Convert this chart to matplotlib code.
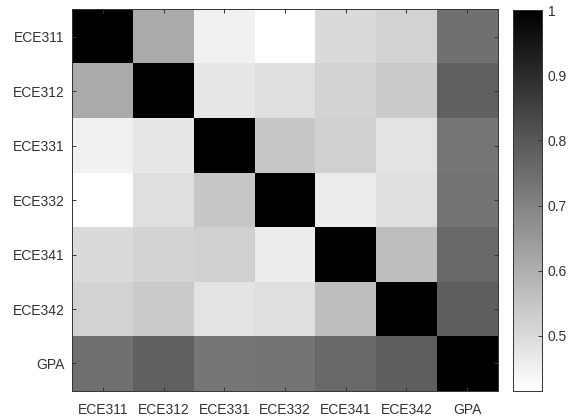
import matplotlib
matplotlib.use("Agg")
import matplotlib.pyplot as plt
import numpy as np

labels = ["ECE311", "ECE312", "ECE331", "ECE332", "ECE341", "ECE342", "GPA"]

row_ece311 = [1.000, 0.611, 0.450, 0.416, 0.501, 0.519, 0.743]
row_ece312 = [0.611, 1.000, 0.473, 0.491, 0.515, 0.537, 0.780]
row_ece331 = [0.450, 0.473, 1.000, 0.547, 0.524, 0.482, 0.730]
row_ece332 = [0.416, 0.491, 0.547, 1.000, 0.460, 0.491, 0.734]
row_ece341 = [0.501, 0.515, 0.524, 0.460, 1.000, 0.565, 0.762]
row_ece342 = [0.519, 0.537, 0.482, 0.491, 0.565, 1.000, 0.785]
row_gpa    = [0.743, 0.780, 0.730, 0.734, 0.762, 0.785, 1.000]

corr = np.array([row_ece311, row_ece312, row_ece331, row_ece332,
                 row_ece341, row_ece342, row_gpa])

plt.rcParams['font.family'] = ['Liberation Sans', 'DejaVu Sans']
text_color = '#333333'

fig = plt.figure(figsize=(5.68, 4.19), dpi=100)
ax = fig.add_axes([0.1275, 0.0675, 0.7485, 0.910])
im = ax.imshow(corr, cmap='gray_r', vmin=corr.min(), vmax=1.0,
               aspect='auto', interpolation='nearest')

n = len(labels)
ax.set_xticks(np.arange(n))
ax.set_yticks(np.arange(n))
ax.set_xticklabels(labels, fontsize=10, color=text_color)
ax.set_yticklabels(labels, fontsize=10, color=text_color)
ax.tick_params(direction='in', length=3, width=0.7, color=text_color,
               top=True, right=True)
ax.tick_params(axis='x', pad=9)
ax.tick_params(axis='y', pad=5.5)
for s in ax.spines.values():
    s.set_color(text_color)
    s.set_linewidth(0.7)

cax = fig.add_axes([0.9027, 0.0675, 0.052, 0.9086])
cb = fig.colorbar(im, cax=cax)
cb.set_ticks([0.5, 0.6, 0.7, 0.8, 0.9, 1.0])
cb.set_ticklabels(['0.5', '0.6', '0.7', '0.8', '0.9', '1'])
cax.tick_params(direction='in', length=3, width=0.7, labelsize=10,
                colors=text_color, pad=4)
cb.outline.set_edgecolor(text_color)
cb.outline.set_linewidth(0.7)

fig.savefig('out.png', dpi=100)
